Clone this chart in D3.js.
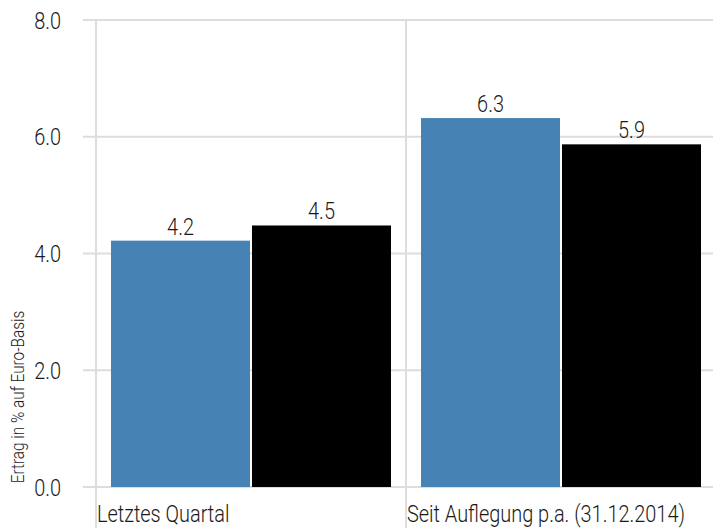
<!DOCTYPE html>
<html>
<head>
<meta charset="utf-8">
<script src="https://cdn.jsdelivr.net/npm/d3@7"></script>
<style>
  body { margin: 0; background: #fff; }
  text { font-family: Roboto, "DejaVu Sans", sans-serif; font-weight: 300; fill: #1a1a1a; }
</style>
</head>
<body>
<div class="js-chart"></div>
<script>
// chart data
var categories = ["Letztes Quartal", "Seit Auflegung p.a. (31.12.2014)"];
var fundValues = [4.22, 6.32];
var benchValues = [4.48, 5.87];
var yTicks = [0, 2, 4, 6, 8];
var yLabel = "Ertrag in % auf Euro-Basis";

var W = 713, H = 528;
var margin = {top: 20, right: 0, bottom: 41, left: 96};
var SX = 0.83; // squeeze text to look like a condensed face

var svg = d3.select(".js-chart").append("svg")
  .attr("width", W)
  .attr("height", H);

var y = d3.scaleLinear().domain([0, 8]).range([H - margin.bottom, margin.top]);
var x = d3.scaleBand().domain(categories).range([margin.left, 716]).paddingInner(0).paddingOuter(0);
var sub = d3.scaleBand().domain(["fund", "bench"]).range([15, x.bandwidth() - 15]).paddingInner(0.014);

// places a condensed text at (px, py)
function label(parent, px, py, str, size, anchor, rot) {
  var g = parent.append("g")
    .attr("transform", "translate(" + px + "," + py + ")" + (rot ? " rotate(" + rot + ")" : "") + " scale(" + SX + ",1)");
  g.append("text")
    .attr("text-anchor", anchor || "start")
    .attr("font-size", size)
    .text(str);
  return g;
}

// horizontal grid
svg.append("g").selectAll("line")
  .data(yTicks)
  .enter().append("line")
  .attr("x1", 83).attr("x2", W)
  .attr("y1", function(d) { return y(d); })
  .attr("y2", function(d) { return y(d); })
  .attr("stroke", "#ddd")
  .attr("stroke-width", 2);

// vertical separators
svg.append("g").selectAll("line")
  .data(categories)
  .enter().append("line")
  .attr("x1", function(d) { return x(d); })
  .attr("x2", function(d) { return x(d); })
  .attr("y1", y(8)).attr("y2", H)
  .attr("stroke", "#ddd")
  .attr("stroke-width", 2);

// y tick labels
var yAxisG = svg.append("g");
yTicks.forEach(function(t) {
  label(yAxisG, 61, y(t) + 8.5, t.toFixed(1), 24, "end");
});

label(svg, 24, 397, yLabel, 18.5, "middle", -90);

// x labels
var xAxisG = svg.append("g");
categories.forEach(function(c) {
  label(xAxisG, x(c) + 1, 522, c, 24, "start");
});

// bars
var rows = categories.map(function(c, i) {
  return [
    {cat: c, key: "fund", value: fundValues[i], color: "#4682b4"},
    {cat: c, key: "bench", value: benchValues[i], color: "#000"}
  ];
}).flat();

svg.append("g").selectAll("rect")
  .data(rows)
  .enter().append("rect")
  .attr("x", function(d) { return x(d.cat) + sub(d.key); })
  .attr("y", function(d) { return y(d.value); })
  .attr("width", sub.bandwidth())
  .attr("height", function(d) { return y(0) - y(d.value); })
  .attr("fill", function(d) { return d.color; });

var valG = svg.append("g");
rows.forEach(function(d) {
  label(valG, x(d.cat) + sub(d.key) + sub.bandwidth() / 2, y(d.value) - 6, d.value.toFixed(1), 24, "middle");
});
</script>
</body>
</html>
